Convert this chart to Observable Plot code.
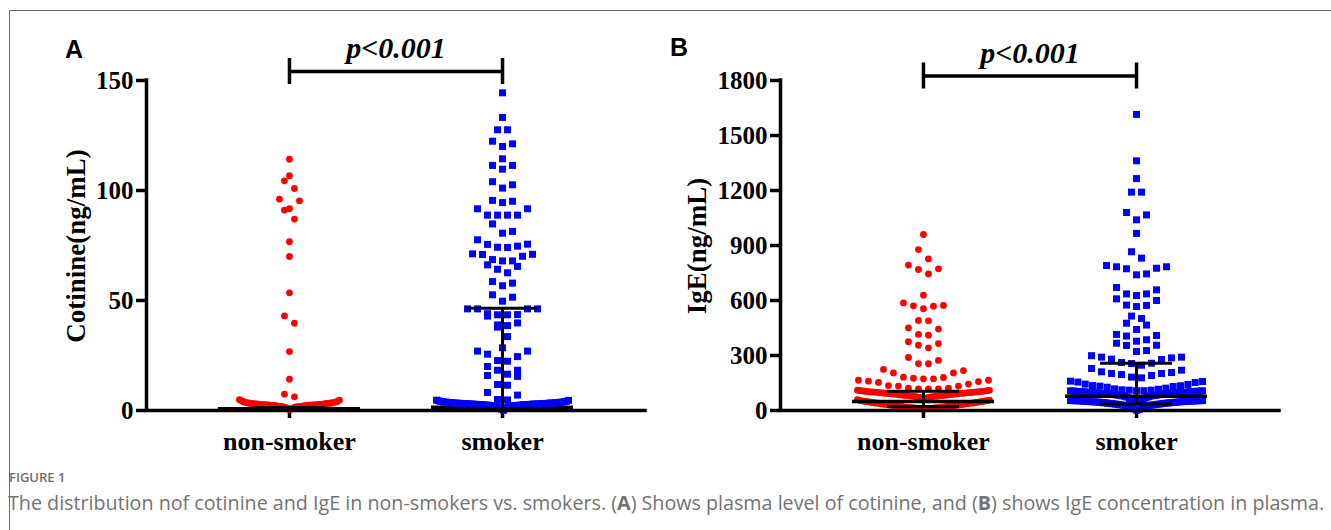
<!DOCTYPE html>
<html><head><meta charset="utf-8">
<script src="https://cdn.jsdelivr.net/npm/d3@7"></script>
<script src="https://cdn.jsdelivr.net/npm/@observablehq/plot@0.6"></script>
<style>
html,body{margin:0;padding:0;background:#fff;}
#page{position:relative;width:1331px;height:530px;overflow:hidden;background:#fff;}
#frame{position:absolute;left:9px;top:10px;width:1400px;height:600px;border-top:1px solid #6b6b6b;border-left:1px solid #6b6b6b;}
.panel{position:absolute;top:0;}
.panel svg{background:transparent !important;overflow:visible;}
.panel g[aria-label="y-axis tick"], .panel g[aria-label="x-axis tick"], .panel g[aria-label="y-axis"] line, .panel g[aria-label="x-axis"] line{stroke-width:3.5px;}
.panel g[aria-label="y-axis tick label"], .panel g[aria-label="y-axis"] text{font-size:25px;}
.plabel{position:absolute;font-family:"Liberation Sans",Arial,sans-serif;font-weight:bold;font-size:25px;color:#000;line-height:1;}
.ytitle{position:absolute;font-family:"Liberation Serif","Times New Roman",serif;font-weight:bold;font-size:27px;white-space:nowrap;line-height:1;transform:translate(-50%,-50%) rotate(-90deg);}
#fig{position:absolute;left:9px;top:471px;font-family:"Open Sans",sans-serif;font-weight:600;font-size:13px;color:#6e6e6e;line-height:1;}
#cap{position:absolute;left:8px;top:491px;font-family:"Open Sans",sans-serif;font-size:19.7px;color:#737373;white-space:nowrap;line-height:1.2;}
</style>
</head><body>
<div id="page">
  <div id="frame"></div>
  <div class="panel" id="pa" style="left:0px"></div>
  <div class="panel" id="pb" style="left:634px"></div>
  <div class="plabel" style="left:65px;top:37px">A</div>
  <div class="plabel" style="left:670px;top:35px">B</div>
  <div class="ytitle" style="left:76px;top:246px">Cotinine(ng/mL)</div>
  <div class="ytitle" style="left:697px;top:246px">IgE(ng/mL)</div>
  <div id="fig">FIGURE 1</div>
  <div id="cap">The distribution nof cotinine and IgE in non-smokers vs. smokers. (<b>A</b>) Shows plasma level of cotinine, and (<b>B</b>) shows IgE concentration in plasma.</div>
</div>
<script>
// ---------------- data ----------------
const categories = ["non-smoker", "smoker"];
const cotinineTicks = [0, 50, 100, 150];
const igeTicks = [0, 300, 600, 900, 1200, 1500, 1800];
const pLabel = "p<0.001";

const cotinineNonSmoker = [
  114.2, 106.7, 104.4, 100.9, 96.1, 95.3, 91.7, 91.1, 87.0, 76.7, 70.0, 53.5, 43.0, 39.7, 26.8, 14.2, 7.4, 6.2,
  0.3, 0.6, 0.9, 1.1, 1.3, 1.4, 1.5, 1.6, 1.7, 1.8,
  1.8, 1.9, 1.9, 2.0, 2.0, 2.1, 2.1, 2.2, 2.2, 2.3,
  2.3, 2.3, 2.4, 2.4, 2.4, 2.5, 2.5, 2.5, 2.6, 2.6,
  2.6, 2.7, 2.7, 2.7, 2.8, 2.8, 2.8, 2.9, 2.9, 3.0,
  3.0, 3.0, 3.1, 3.1, 3.2, 3.2, 3.3, 3.3, 3.4, 3.4,
  3.5, 3.6, 3.7, 3.8, 3.9, 4.1, 4.3, 4.5, 4.7, 4.9
];
const cotinineSmoker = [
  144.4, 133.2, 127.6, 127.6, 122.4, 121.2, 120.0, 114.4, 111.4, 111.4,
  109.7, 104.0, 102.6, 101.1, 95.5, 95.1, 94.5, 91.7, 91.7, 88.8,
  88.8, 88.8, 88.8, 84.8, 81.4, 80.6, 77.6, 75.6, 75.5, 74.7,
  74.2, 74.1, 71.2, 71.0, 70.9, 70.1, 68.6, 68.0, 68.0, 66.2,
  65.5, 64.2, 62.6, 58.6, 57.9, 56.7, 52.6, 51.5, 49.7, 46.2,
  46.2, 46.2, 46.2, 44.0, 43.6, 43.5, 43.5, 42.9, 39.8, 38.9,
  38.6, 37.9, 33.6, 28.5, 27.0, 27.0, 25.6, 24.5, 22.7, 22.4,
  20.0, 18.3, 18.3, 16.5, 15.9, 15.5, 11.8, 11.5, 8.2, 7.0,
  5.0, 4.8,
  0.1, 0.7, 1.2, 1.5, 1.7, 1.8, 1.9, 2.0, 2.1, 2.2,
  2.2, 2.3, 2.3, 2.4, 2.4, 2.5, 2.5, 2.6, 2.6, 2.6,
  2.7, 2.7, 2.7, 2.8, 2.8, 2.8, 2.9, 2.9, 2.9, 3.0,
  3.0, 3.0, 3.0, 3.1, 3.1, 3.1, 3.2, 3.2, 3.2, 3.3,
  3.3, 3.3, 3.4, 3.4, 3.4, 3.5, 3.5, 3.6, 3.6, 3.7,
  3.7, 3.8, 3.8, 3.9, 4.0, 4.1, 4.2, 4.4, 4.6, 4.7
];
const igeNonSmoker = [
  960, 878, 827, 793, 773, 769, 745, 629, 587, 573,
  571, 569, 555, 491, 489, 451, 444, 415, 411, 375,
  365, 356, 342, 289, 273, 256, 255, 224, 218, 205,
  205, 182, 180, 176, 173, 173, 165, 165, 160, 158,
  153, 144, 136, 133, 133, 122, 122, 118, 118, 118,
  64, 68, 70, 72, 73, 74, 75, 76, 77, 78,
  79, 79, 80, 81, 82, 82, 83, 84, 85, 85,
  86, 87, 88, 88, 89, 90, 91, 91, 92, 93,
  93, 94, 95, 95, 96, 97, 97, 98, 99, 99,
  100, 100, 101, 102, 102, 103, 104, 104, 105, 106,
  107, 108, 109, 110, 111,
  9, 9, 10, 10, 11, 11, 12, 13, 13, 14,
  15, 15, 16, 17, 17, 18, 19, 20, 20, 21,
  22, 23, 23, 24, 25, 26, 27, 27, 28, 29,
  30, 31, 32, 33, 33, 34, 35, 36, 37, 38,
  39, 40, 40, 41, 42, 43, 44, 45, 46, 47,
  48, 49, 50, 51, 52, 53, 54, 55, 57, 59
];
const igeSmoker = [
  1615, 1362, 1265, 1191, 1191, 1080, 1067, 1040, 966, 866,
  831, 791, 784, 784, 776, 773, 745, 740, 671, 658,
  636, 636, 627, 609, 600, 575, 573, 567, 515, 502,
  476, 466, 442, 415, 409, 406, 386, 378, 367, 356,
  355, 327, 322, 299, 291, 291, 287, 280, 278, 262,
  258, 256, 247, 229, 220, 211, 207, 202, 202, 196,
  191, 182, 178, 160, 158, 155, 153, 144, 142, 136,
  135, 133, 131, 127, 122, 118, 116, 113, 111, 111,
  57, 62, 66, 70, 73, 75, 77, 79, 80, 81,
  82, 83, 84, 85, 86, 87, 88, 88, 89, 90,
  90, 91, 92, 92, 93, 94, 94, 95, 95, 96,
  96, 97, 97, 98, 98, 99, 99, 100, 100, 101,
  101, 102, 102, 103, 103, 104, 104, 105, 105, 106,
  106, 107, 107, 108, 108,
  2, 6, 10, 14, 17, 20, 22, 24, 26, 28,
  29, 30, 31, 32, 33, 34, 35, 36, 37, 38,
  39, 40, 40, 41, 42, 43, 43, 44, 45, 45,
  46, 47, 47, 48, 48, 49, 49, 50, 50, 51,
  51, 52, 52, 52, 53, 53, 53, 54, 54, 54,
  54, 55, 55, 55, 55
];
// median / interquartile range per group (non-smoker, smoker)
const cotinineMedian = [0.8, 1.5];
const cotinineQ1 = [0.5, 0.8];
const cotinineQ3 = [1.4, 46.5];
const igeMedian = [49, 78];
const igeQ1 = [22, 36];
const igeQ3 = [105, 258];

// ---------------- layout ----------------
const W = 670, H = 470, ML = 146, MR = 25, MT = 80, MB = 60;
const XD = [-0.671, 1.671];
const pxPerX = (W - ML - MR) / (XD[1] - XD[0]);
const STEP = 10; // px between neighbours in a row

// Prism-like scatter: rows of similar values, sorted ascending from the centre outward
function swarm(vals, g, rowUnits, maxHalf) {
  const s = [...vals].sort((a, b) => a - b);
  const out = [];
  let i = 0;
  while (i < s.length) {
    let j = i;
    while (j < s.length && s[j] - s[i] <= rowUnits) j++;
    const row = s.slice(i, j), n = row.length;
    const step = n > 1 ? Math.min(STEP, 2 * maxHalf / (n - 1)) : 0;
    row.forEach((v, k) => {
      let off;
      if (n % 2) { const m = Math.ceil(k / 2); off = k === 0 ? 0 : (k % 2 ? m : -m); }
      else { const m = Math.floor(k / 2) + 0.5; off = k % 2 === 0 ? m : -m; }
      out.push({x: g + off * step / pxPerX, y: v});
    });
    i = j;
  }
  return out;
}

function makePanel(o) {
  const innerH = H - MT - MB;
  const pxPerY = innerH / o.ymax;
  const yAt = px => o.ymax * (H - MB - px) / innerH;
  const rowUnits = o.rowPx / pxPerY;
  const dNon = swarm(o.non, 0, rowUnits, o.half[0]);
  const dSmk = swarm(o.smk, 1, rowUnits, o.half[1]);
  const stats = categories.map((c, i) => ({g: i, med: o.med[i], q1: o.q1[i], q3: o.q3[i]}));
  const mh = 71 / pxPerX, ch = 36 / pxPerX;
  const serif = "Liberation Serif, Times New Roman, serif";
  const medianLine = Plot.ruleY(stats, {y: "med", x1: d => d.g - mh, x2: d => d.g + mh, stroke: "#000", strokeWidth: 3.5});
  return Plot.plot({
    width: W, height: H,
    marginLeft: ML, marginRight: MR, marginTop: MT, marginBottom: MB,
    style: {background: "transparent", fontFamily: serif, fontWeight: "bold", fontSize: "26px", color: "#000", overflow: "visible"},
    x: {domain: XD, ticks: [0, 1], tickFormat: i => categories[i], tickSize: 8, tickPadding: 13, label: null},
    y: {domain: [0, o.ymax], ticks: o.ticks, tickFormat: d => String(d), tickSize: 10, tickPadding: 3, label: null},
    marks: [
      o.medianOnTop ? null : medianLine,
      Plot.dot(dNon, {x: "x", y: "y", r: 3.4, fill: "#ff0000", symbol: "circle"}),
      Plot.dot(dSmk, {x: "x", y: "y", r: 3.95, fill: "#0000ff", symbol: "square"}),
      Plot.ruleX(stats, {x: "g", y1: "q1", y2: "q3", stroke: "#000", strokeWidth: 3}),
      Plot.ruleY(stats, {y: "q3", x1: d => d.g - ch, x2: d => d.g + ch, stroke: "#000", strokeWidth: 3}),
      Plot.ruleY(stats, {y: "q1", x1: d => d.g - ch, x2: d => d.g + ch, stroke: "#000", strokeWidth: 3}),
      o.medianOnTop ? medianLine : null,
      Plot.ruleX([XD[0]], {y1: 0, y2: o.ymax, stroke: "#000", strokeWidth: 3.5, strokeLinecap: "square"}),
      Plot.ruleY([0], {x1: XD[0], x2: XD[1], stroke: "#000", strokeWidth: 3.5, strokeLinecap: "square"}),
      Plot.ruleY([yAt(o.bracketPx)], {x1: 0, x2: 1, stroke: "#000", strokeWidth: 3.5}),
      Plot.ruleX([0, 1], {y1: yAt(o.bracketPx - 13), y2: yAt(o.bracketPx + 13), stroke: "#000", strokeWidth: 3.5}),
      Plot.text([pLabel], {x: 0.5, y: yAt(o.textPx), text: d => d, fontSize: 30, fontStyle: "italic", fontWeight: "bold", fontFamily: serif, fill: "#000"})
    ]
  });
}

document.getElementById("pa").append(makePanel({
  ymax: 150, ticks: cotinineTicks, non: cotinineNonSmoker, smk: cotinineSmoker,
  med: cotinineMedian, q1: cotinineQ1, q3: cotinineQ3,
  rowPx: 10.2, half: [50, 66], bracketPx: 71, textPx: 48, medianOnTop: false
}));
document.getElementById("pb").append(makePanel({
  ymax: 1800, ticks: igeTicks, non: igeNonSmoker, smk: igeSmoker,
  med: igeMedian, q1: igeQ1, q3: igeQ3,
  rowPx: 9.7, half: [66, 66], bracketPx: 75.5, textPx: 53, medianOnTop: true
}));
</script>
</body></html>
